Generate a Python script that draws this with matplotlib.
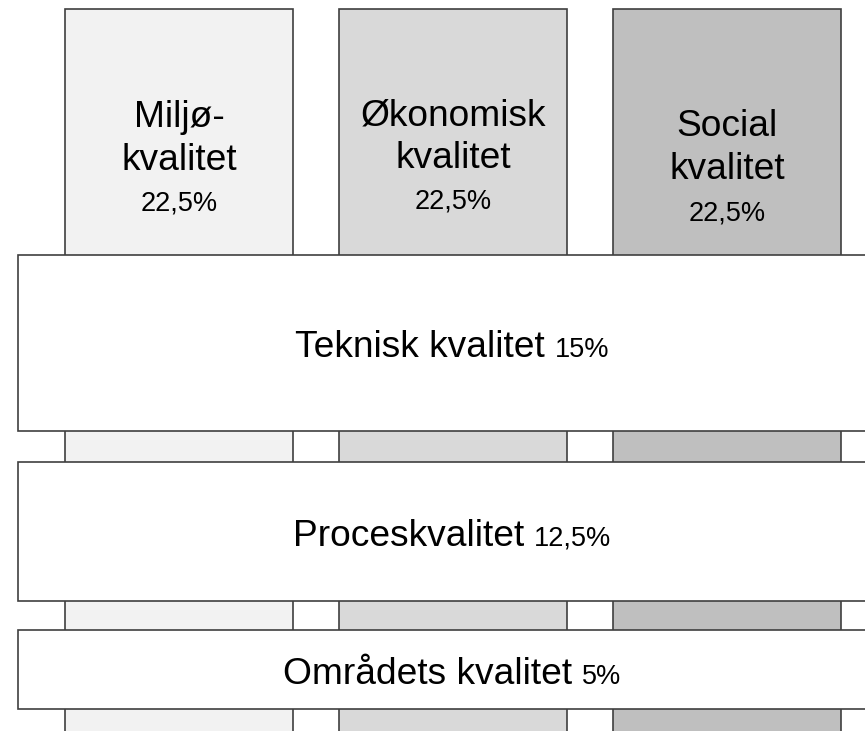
import numpy as np
import matplotlib
matplotlib.use("Agg")
import matplotlib.pyplot as plt

plt.rcParams['font.family'] = ['Liberation Sans', 'DejaVu Sans']

# ----------- DATA ------------- #
pillar_labels = ["Miljø-\nkvalitet", "Økonomisk\nkvalitet", "Social\nkvalitet"]
pillar_weights = [22.5, 22.5, 22.5]
band_labels = ["Teknisk kvalitet", "Proceskvalitet", "Områdets kvalitet"]
band_weights = [15, 12.5, 5]

# ----------- LAYOUT / STYLE ------------- #
pillar_colors = ['#f2f2f2', '#d9d9d9', '#bfbfbf']
edge = '#3f3f3f'
lw = 1.2
pillar_left, pillar_w, pillar_step = 65, 228, 274
pillar_top, pillar_bottom = 9, 760
band_left, band_right = 18, 886
band_tops = [255, 462, 630]
band_bottoms = [431, 601, 709]
first_baseline = [127, 125, 136]   # first text line in each pillar
big, small = 26.7, 19.5


def pct(w):
    return ("%g" % w).replace('.', ',') + '%'


fig = plt.figure(figsize=(8.65, 7.31), dpi=100)
ax = fig.add_axes([0, 0, 1, 1])
ax.set_xlim(0, 865)
ax.set_ylim(731, 0)
ax.axis('off')

# pillars
n = len(pillar_labels)
centers = pillar_left + pillar_w / 2 + pillar_step * np.arange(n)
ax.bar(centers, pillar_bottom - pillar_top, bottom=pillar_top, width=pillar_w,
       color=pillar_colors, edgecolor=edge, linewidth=lw, zorder=1)

for i in range(n):
    y = first_baseline[i]
    for line in pillar_labels[i].split('\n'):
        ax.text(centers[i], y, line, size=big, ha='center', va='baseline', zorder=3)
        y += 43
    ax.text(centers[i], y - 2, pct(pillar_weights[i]), size=small, ha='center', va='baseline', zorder=3)

# horizontal bands
tops = np.array(band_tops)
bots = np.array(band_bottoms)
ax.barh((tops + bots) / 2, band_right - band_left, left=band_left, height=bots - tops,
        color='white', edgecolor=edge, linewidth=lw, zorder=2)

renderer = fig.canvas.get_renderer()
cx = (band_left + band_right) / 2
gap = 10
for i in range(len(band_labels)):
    yb = (tops[i] + bots[i]) / 2 + 14
    t1 = ax.text(0, yb, band_labels[i], size=big, ha='left', va='baseline', zorder=3)
    t2 = ax.text(0, yb, pct(band_weights[i]), size=small, ha='left', va='baseline', zorder=3)
    w1 = t1.get_window_extent(renderer).width
    w2 = t2.get_window_extent(renderer).width
    x1 = cx - (w1 + gap + w2) / 2
    t1.set_x(x1)
    t2.set_x(x1 + w1 + gap)

fig.savefig('out.png', dpi=100)
